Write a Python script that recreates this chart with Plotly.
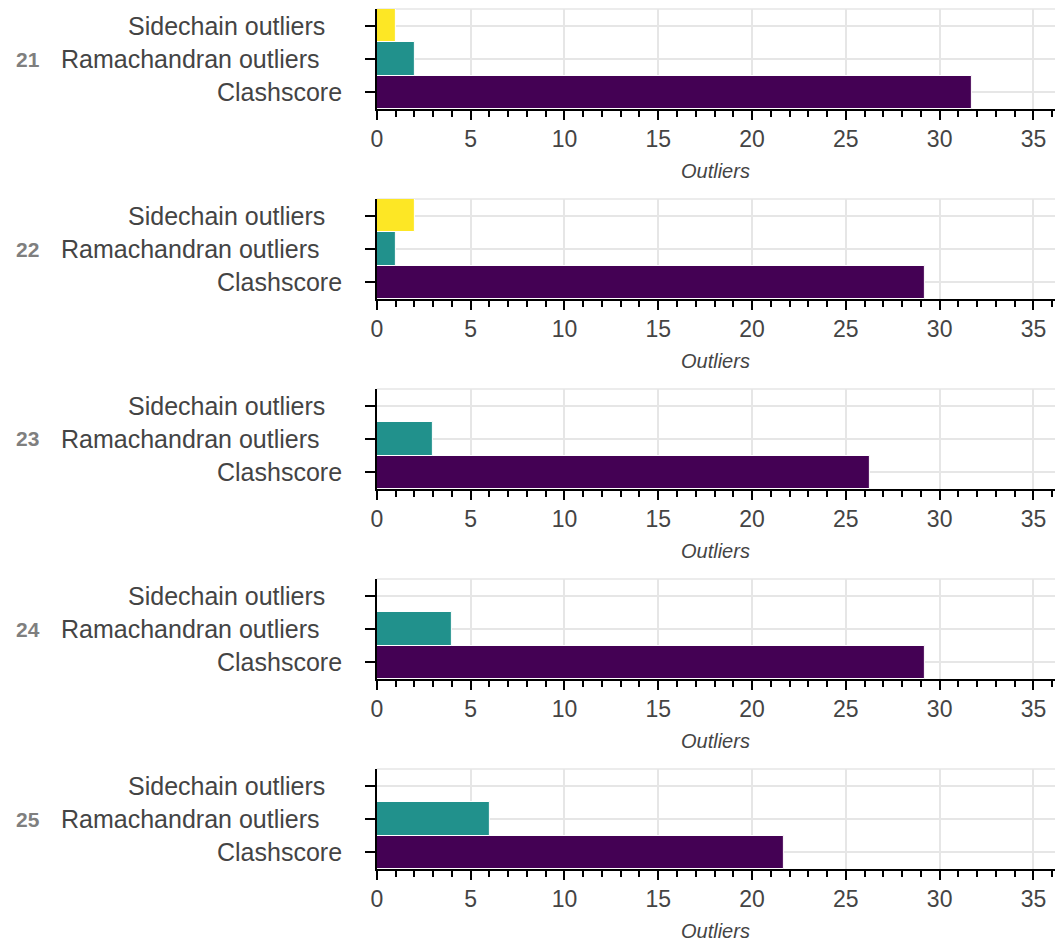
import plotly.graph_objects as go

# Validation metrics per model
models = ["21", "22", "23", "24", "25"]
metrics = ["Clashscore", "Ramachandran outliers", "Sidechain outliers"]
clashscore = [31.7, 29.2, 26.3, 29.2, 21.7]
ramachandran = [2, 1, 3, 4, 6]
sidechain = [1, 2, 0, 0, 0]
x_ticks = [0, 5, 10, 15, 20, 25, 30, 35]

colors = ["#440154", "#21918c", "#fde725"]

W, H = 1055, 941
PLOT_LEFT = 373
PANEL_TOP0 = 9
PANEL_H = 100
PANEL_STEP = 190
X_MAX = 36.15

FONT = "Liberation Sans, Arial, Helvetica, sans-serif"
TEXT = "#444444"

fig = go.Figure()


def px_x(p):
    return p / W


def px_y(p):
    return 1 - p / H


# Right edges of the metric labels, in pixels
label_right = {"Clashscore": 339.5, "Ramachandran outliers": 316.5, "Sidechain outliers": 323}

for i, m in enumerate(models):
    top = PANEL_TOP0 + i * PANEL_STEP
    bottom = top + PANEL_H
    sfx = "" if i == 0 else str(i + 1)
    xa, ya = "x" + sfx, "y" + sfx
    vals = [clashscore[i], ramachandran[i], sidechain[i]]
    fig.add_trace(go.Bar(
        x=vals, y=metrics, orientation="h",
        marker=dict(color=colors, line=dict(color="white", width=1)),
        width=1.0, xaxis=xa, yaxis=ya, showlegend=False,
        hovertemplate="%{y}: %{x}<extra>" + m + "</extra>",
    ))
    fig.layout["xaxis" + sfx] = dict(
        domain=[px_x(PLOT_LEFT), 1], anchor=ya, range=[0, X_MAX],
        tickvals=x_ticks, ticks="outside", ticklen=9, tickwidth=2,
        tickcolor="black", showline=True, linecolor="black", linewidth=2,
        showgrid=True, gridcolor="#e6e6e6", gridwidth=1.5, zeroline=False,
        tickfont=dict(family=FONT, size=23, color=TEXT),
        ticklabelstandoff=-1,
        minor=dict(dtick=1, tick0=0, ticks="outside", ticklen=6, tickwidth=1.5,
                   tickcolor="black", showgrid=False),
        fixedrange=True,
    )
    fig.layout["yaxis" + sfx] = dict(
        domain=[px_y(bottom), px_y(top)], anchor=xa, type="category",
        categoryorder="array", categoryarray=metrics, range=[-0.5, 2.5],
        ticks="outside", ticklen=10, tickwidth=2, tickcolor="black",
        showline=True, linecolor="black", linewidth=2,
        showgrid=True, gridcolor="#e6e6e6", gridwidth=1.5,
        showticklabels=False, zeroline=False, fixedrange=True,
    )
    # upper boundary line of the panel
    fig.add_shape(type="line", xref=xa + " domain", yref=ya + " domain",
                  x0=0, x1=1, y0=1, y1=1, layer="below",
                  line=dict(color="#e6e6e6", width=1.5))
    # metric labels
    band = PANEL_H / 3
    for j, met in enumerate(metrics):
        cy = bottom - band * (j + 0.5)
        fig.add_annotation(
            x=px_x(label_right[met]), y=px_y(cy), xref="paper", yref="paper",
            xanchor="right", yanchor="middle", text=met, showarrow=False,
            font=dict(family=FONT, size=25, color=TEXT),
        )
    # model number
    fig.add_annotation(
        x=px_x(8), y=px_y(top + PANEL_H / 2), xref="paper", yref="paper",
        xanchor="left", yanchor="middle", text="<b>" + m + "</b>", showarrow=False,
        font=dict(family=FONT, size=21, color="#7f7f7f"),
    )
    # axis title
    fig.add_annotation(
        x=px_x(714), y=px_y(top + 162), xref="paper", yref="paper",
        xanchor="center", yanchor="middle", text="<i>Outliers</i>", showarrow=False,
        font=dict(family=FONT, size=20, color=TEXT),
    )

fig.update_layout(
    width=W, height=H, margin=dict(l=0, r=0, t=0, b=0),
    paper_bgcolor="white", plot_bgcolor="white", bargap=0,
)

fig.write_html("out.html")
